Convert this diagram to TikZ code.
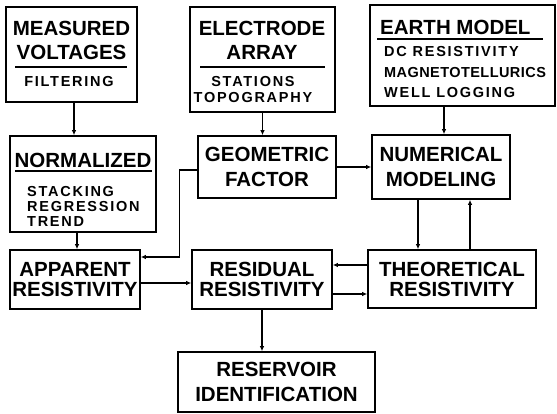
\documentclass[tikz,border=0pt]{standalone}
\usepackage{fontspec}
\setmainfont{Liberation Sans}
\newfontfamily\subwide{Liberation Sans}[LetterSpace=12]
\newfontfamily\subnarrow{Liberation Sans}[LetterSpace=3]
\usetikzlibrary{arrows.meta}

\begin{document}
\begin{tikzpicture}[x=1pt, y=-1pt,
    box/.style={draw, line width=1.6pt, inner sep=0pt},
    head/.style={font=\bfseries\fontsize{20.5}{24.5}\selectfont, align=center, inner sep=0pt},
    headtight/.style={font=\bfseries\fontsize{20.5}{20}\selectfont, align=center, inner sep=0pt},
    sub/.style={font=\subwide\bfseries\fontsize{14.5}{15}\selectfont, inner sep=0pt},
    rule/.style={line width=1.2pt},
    flow/.style={-{Latex[length=5pt,width=4.5pt]}, line width=1.3pt}]
  \useasboundingbox (0,0) rectangle (557,414);

  % Input boxes
  \node[box, minimum width=131pt, minimum height=95pt] (meas) at (71.5,54.5) {};
  \node[head, anchor=base] (measH) at (71.5,60) {MEASURED\\VOLTAGES};
  \node[sub, anchor=base] (measS) at (69,87) {FILTERING};
  \draw[rule] (15,67) -- (127,67);

  \node[box, minimum width=145pt, minimum height=105pt] (elec) at (262.5,59.5) {};
  \node[head, anchor=base] (elecH) at (262,60) {ELECTRODE\\ARRAY};
  \node[sub, anchor=base, align=center, font=\subwide\bfseries\fontsize{14.5}{16}\selectfont] (elecS) at (253,103) {STATIONS\\TOPOGRAPHY};
  \draw[rule] (200,67) -- (325,67);

  \node[box, minimum width=185pt, minimum height=101pt] (earth) at (462.5,55.5) {};
  \node[head, anchor=base west] (earthH) at (380,35) {EARTH MODEL};
  \node[sub, anchor=base west, align=left, font=\subwide\bfseries\fontsize{14.5}{20.5}\selectfont] (earthS) at (384,98)
    {DC RESISTIVITY\\{\subnarrow MAGNETOTELLURICS}\\WELL LOGGING};
  \draw[rule] (377,39) -- (543,39);

  % Middle row
  \node[box, minimum width=146pt, minimum height=96pt] (norm) at (83,184) {};
  \node[head, anchor=base] (normH) at (83,168) {NORMALIZED};
  \node[sub, anchor=base west, align=left] (normS) at (27,227) {STACKING\\REGRESSION\\TREND};
  \draw[rule] (15,171) -- (152,171);

  \node[box, head, minimum width=138pt, minimum height=62pt] (geom) at (267,167) {GEOMETRIC\\FACTOR};
  \node[box, head, minimum width=138pt, minimum height=64pt] (numer) at (441,167) {NUMERICAL\\MODELING};

  % Resistivity row
  \node[box, headtight, minimum width=130pt, minimum height=59pt] (appar) at (75,279.5) {APPARENT\\RESISTIVITY};
  \node[box, headtight, minimum width=140pt, minimum height=59pt] (resid) at (262,279.5) {RESIDUAL\\RESISTIVITY};
  \node[box, headtight, minimum width=168pt, minimum height=58pt] (theor) at (452,279) {THEORETICAL\\RESISTIVITY};

  % Output
  \node[box, head, minimum width=197pt, minimum height=60pt] (reserv) at (276.5,382) {RESERVOIR\\IDENTIFICATION};

  % Connections
  \draw[flow] ([xshift=2.5pt]meas.south) -- ([xshift=2.5pt]meas.south |- norm.north);
  \draw[flow] ([xshift=2pt]appar.north |- norm.south) -- ([xshift=2pt]appar.north);
  \draw[flow] (elec.south) -- (elec.south |- geom.north);
  \draw[flow] ([xshift=3pt]numer.north |- earth.south) -- ([xshift=3pt]numer.north);
  \draw[flow] (geom.east) -- (geom.east -| numer.west);
  \draw[flow] ([yshift=-3pt]geom.west) -- ++(-18,0) |- ([yshift=22.5pt]appar.east);
  \draw[flow] ([yshift=-3.5pt]appar.east) -- ([yshift=-3.5pt]appar.east -| resid.west);
  \draw[flow] ([yshift=14pt]theor.west) -- ([yshift=14pt]theor.west -| resid.east);
  \draw[flow] ([yshift=-14.5pt]resid.east) -- ([yshift=-14.5pt]resid.east -| theor.west);
  \draw[flow] ([xshift=-23pt]numer.south) -- ([xshift=-23pt]numer.south |- theor.north);
  \draw[flow] ([xshift=18pt]theor.north) -- ([xshift=18pt]theor.north |- numer.south);
  \draw[flow] (resid.south) -- (resid.south |- reserv.north);
\end{tikzpicture}
\end{document}
